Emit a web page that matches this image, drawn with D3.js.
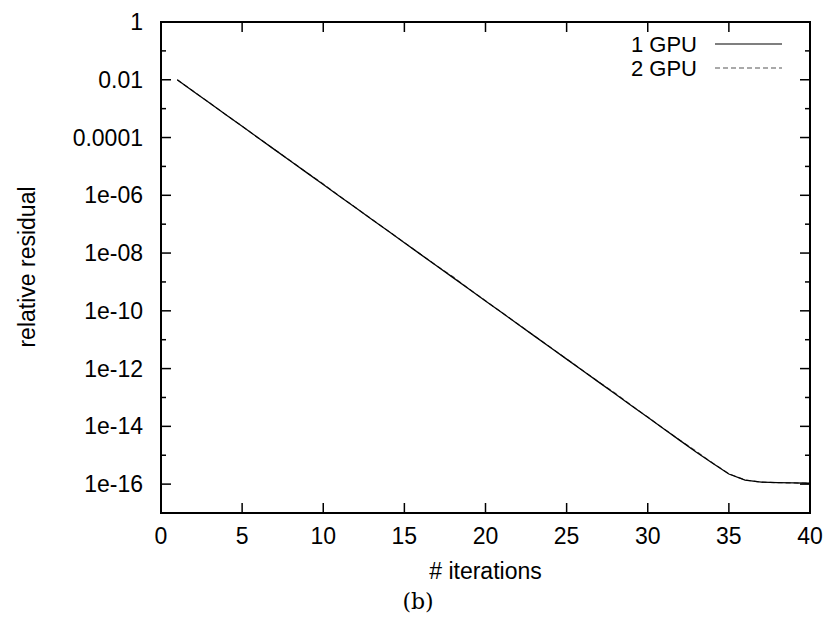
<!DOCTYPE html>
<html>
<head>
<meta charset="utf-8">
<script src="https://cdn.jsdelivr.net/npm/d3@7"></script>
<style>
  html, body { margin: 0; padding: 0; background: #fff; }
  svg { display: block; }
  text { font-family: "Liberation Sans", Arial, Helvetica, sans-serif; fill: #000; }
  text.caption { font-family: "DejaVu Serif", "Liberation Serif", serif; }
</style>
</head>
<body>
<svg id="chart" width="829" height="622"></svg>
<script>
// Relative residual per iteration for the solver on one and two GPUs
const iterations = d3.range(1, 41);
const residual1GPU = [
  1.00e-2, 3.95e-3, 1.56e-3, 6.18e-4, 2.44e-4, 9.66e-5, 3.82e-5, 1.51e-5, 5.97e-6, 2.36e-6,
  9.33e-7, 3.69e-7, 1.46e-7, 5.77e-8, 2.28e-8, 9.02e-9, 3.56e-9, 1.41e-9, 5.57e-10, 2.20e-10,
  8.71e-11, 3.44e-11, 1.36e-11, 5.38e-12, 2.13e-12, 8.41e-13, 3.33e-13, 1.32e-13, 5.20e-14, 2.06e-14,
  8.13e-15, 3.21e-15, 1.27e-15, 5.25e-16, 2.24e-16, 1.38e-16, 1.17e-16, 1.12e-16, 1.10e-16, 1.07e-16
];
const residual2GPU = [
  1.00e-2, 3.97e-3, 1.57e-3, 6.20e-4, 2.46e-4, 9.70e-5, 3.85e-5, 1.53e-5, 6.05e-6, 2.45e-6,
  9.40e-7, 3.72e-7, 1.47e-7, 5.85e-8, 2.31e-8, 9.10e-9, 3.62e-9, 1.50e-9, 5.62e-10, 2.22e-10,
  8.80e-11, 3.47e-11, 1.38e-11, 5.45e-12, 2.16e-12, 8.52e-13, 3.38e-13, 1.40e-13, 5.28e-14, 2.09e-14,
  8.20e-15, 3.26e-15, 1.35e-15, 5.35e-16, 2.28e-16, 1.39e-16, 1.17e-16, 1.12e-16, 1.10e-16, 1.07e-16
];
const seriesNames = ["1 GPU", "2 GPU"];
const xTickValues = [0, 5, 10, 15, 20, 25, 30, 35, 40];
const yTickValues = [1, 1e-2, 1e-4, 1e-6, 1e-8, 1e-10, 1e-12, 1e-14, 1e-16];
const yTickLabels = ["1", "0.01", "0.0001", "1e-06", "1e-08", "1e-10", "1e-12", "1e-14", "1e-16"];
const yMinorValues = [1e-1, 1e-3, 1e-5, 1e-7, 1e-9, 1e-11, 1e-13, 1e-15];

const svg = d3.select("#chart");
const plotLeft = 161, plotRight = 810, plotTop = 22, plotBottom = 513;

const x = d3.scaleLinear().domain([0, 40]).range([plotLeft, plotRight]);
const y = d3.scaleLog().domain([1e-17, 1]).range([plotBottom, plotTop]);

const FS = 23;
const majorLen = 10, minorLen = 5;

// Tick marks: drawn inward on all four sides
const tickG = svg.append("g").attr("stroke", "#000").attr("stroke-width", 1.5);
xTickValues.forEach(v => {
  if (v === 0 || v === 40) return;
  tickG.append("line").attr("x1", x(v)).attr("x2", x(v)).attr("y1", plotBottom).attr("y2", plotBottom - majorLen);
  tickG.append("line").attr("x1", x(v)).attr("x2", x(v)).attr("y1", plotTop).attr("y2", plotTop + majorLen);
});
yTickValues.forEach(v => {
  if (v === 1) return;
  tickG.append("line").attr("x1", plotLeft).attr("x2", plotLeft + majorLen).attr("y1", y(v)).attr("y2", y(v));
  tickG.append("line").attr("x1", plotRight).attr("x2", plotRight - majorLen).attr("y1", y(v)).attr("y2", y(v));
});
yMinorValues.forEach(v => {
  tickG.append("line").attr("x1", plotLeft).attr("x2", plotLeft + minorLen).attr("y1", y(v)).attr("y2", y(v));
  tickG.append("line").attr("x1", plotRight).attr("x2", plotRight - minorLen).attr("y1", y(v)).attr("y2", y(v));
});

// Tick labels
svg.append("g").selectAll("text").data(xTickValues).join("text")
  .attr("x", d => x(d)).attr("y", 544)
  .attr("text-anchor", "middle")
  .attr("font-size", FS).text(d => d);
svg.append("g").selectAll("text").data(yTickValues).join("text")
  .attr("x", plotLeft - 18).attr("y", d => y(d) + 8)
  .attr("text-anchor", "end")
  .attr("font-size", FS).text((d, i) => yTickLabels[i]);

// Axis titles and panel caption
svg.append("text").attr("x", x(20)).attr("y", 579)
  .attr("text-anchor", "middle")
  .attr("font-size", FS).text("# iterations");
svg.append("text")
  .attr("transform", `translate(35, 267) rotate(-90)`)
  .attr("text-anchor", "middle")
  .attr("font-size", FS).text("relative residual");
svg.append("text").attr("class", "caption")
  .attr("x", 418).attr("y", 609)
  .attr("text-anchor", "middle")
  .attr("font-size", 22).text("(b)");

// Data lines
const line = d3.line().x(d => x(d[0])).y(d => y(d[1]));
svg.append("path")
  .datum(iterations.map((it, i) => [it, residual2GPU[i]]))
  .attr("fill", "none").attr("stroke", "#555").attr("stroke-width", 1.2)
  .attr("stroke-dasharray", "5,3").attr("d", line);
svg.append("path")
  .datum(iterations.map((it, i) => [it, residual1GPU[i]]))
  .attr("fill", "none").attr("stroke", "#000").attr("stroke-width", 1.3)
  .attr("d", line);

// Legend
const legend = svg.append("g");
const legendRows = [
  { name: seriesNames[0], y: 44, stroke: "#000", dash: null },
  { name: seriesNames[1], y: 68, stroke: "#555", dash: "5,3" }
];
legendRows.forEach(r => {
  legend.append("text").attr("x", 697).attr("y", r.y + 8)
    .attr("text-anchor", "end")
    .attr("font-size", 22).text(r.name);
  legend.append("line").attr("x1", 715).attr("x2", 782).attr("y1", r.y).attr("y2", r.y)
    .attr("stroke", r.stroke).attr("stroke-width", 1.2)
    .attr("stroke-dasharray", r.dash);
});

// Frame
svg.append("rect").attr("x", plotLeft).attr("y", plotTop)
  .attr("width", plotRight - plotLeft).attr("height", plotBottom - plotTop)
  .attr("fill", "none").attr("stroke", "#000").attr("stroke-width", 2);
</script>
</body>
</html>
